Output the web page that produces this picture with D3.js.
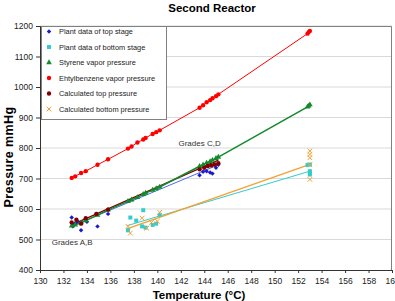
<!DOCTYPE html>
<html>
<head>
<meta charset="utf-8">
<script src="https://d3js.org/d3.v7.min.js"></script>
<style>
  body { margin: 0; background: #fff; }
  text { font-family: "Liberation Sans", Arial, sans-serif; }
</style>
</head>
<body>
<div id="chart"></div>
<script>

// ---- data ----
var xTicks = [130,132,134,136,138,140,142,144,146,148,150,152,154,156,158,160];
var yTicks = [400,500,600,700,800,900,1000,1100,1200];

// plant data, top stage
var topT = [132.7,132.8,133.0,133.2,133.5,134.0,134.9,135.8,143.6,143.9,144.2,144.5,144.7,145.0,145.2];
var topP = [572,543,553,560,530,558,543,584,711,722,724,720,716,735,745];

// plant data, bottom stage
var botT = [137.5,137.7,138.2,138.7,138.8,139.0,139.6,139.9,140.2,152.8,153.0,153.0,153.0,153.0];
var botP = [530,572,562,543,596,539,548,552,581,744,746,724,719,713];

// vapor pressures at the stage temperatures
var vpT = [132.7,133.0,133.5,133.9,134.9,135.8,137.5,137.8,138.3,138.8,139.0,139.6,139.9,140.2,
           143.6,143.9,144.2,144.5,144.7,145.0,145.2,152.8,152.9,153.0];
var styreneP = [545,548,555,562,580,597,625,630,638,648,652,662,667,672,
                740,745,751,756,760,766,770,935,938,942];
var ebP = [702,707,718,724,745,763,798,805,818,828,833,846,852,858,
           932,940,950,957,963,970,976,1175,1180,1184];

// calculated pressures
var calcTopT = [132.7,133.1,133.5,133.9,134.8,135.8,143.6,144.0,144.3,144.6,144.9,145.2];
var calcTopP = [556,565,552,570,584,598,730,735,741,743,746,750];
var calcBotT = [137.5,137.7,138.7,139.1,139.5,140.0,140.2,153.0,153.0,153.0,153.0,153.0];
var calcBotP = [543,521,570,537,556,560,589,697,745,768,779,790];

// trend lines
var topLineT = [132.8,145.2],     topLineP = [545,745];
var botLineT = [137.4,153.0],     botLineP = [545,724];
var calcTopLineT = [132.7,145.2], calcTopLineP = [548,760];
var calcBotLineT = [137.4,153.0], calcBotLineP = [535,746];

var legendNames = ["Plant data of top stage","Plant data of bottom stage","Styrene vapor pressure",
                   "Ehtylbenzene vapor pressure","Calculated top pressure","Calculated bottom pressure"];

// ---- layout ----
var W = 395, H = 301;
var margin = {top: 26, right: 3, bottom: 31, left: 40};
var width = W - margin.left - margin.right,
    height = H - margin.top - margin.bottom;

var svg = d3.select("#chart").append("svg")
    .attr("width", W).attr("height", H);

var g = svg.append("g")
    .attr("transform", "translate(" + margin.left + "," + margin.top + ")");

var x = d3.scaleLinear().domain([130,160]).range([0, width]);
var y = d3.scaleLinear().domain([400,1200]).range([height, 0]);

// gridlines
g.selectAll(".grid").data(yTicks.slice(1)).enter().append("line")
    .attr("x1", 0).attr("x2", width)
    .attr("y1", function(d){ return y(d); }).attr("y2", function(d){ return y(d); })
    .attr("stroke", "#d9d9d9").attr("stroke-width", 1);

// plot frame (top/right)
g.append("path")
    .attr("d", "M0,0.5H" + (width - 0.5) + "V" + height)
    .attr("fill", "none").attr("stroke", "#808080");

// axes
var xAxis = g.append("g")
    .attr("transform", "translate(0," + height + ")")
    .call(d3.axisBottom(x).tickValues(xTicks).tickFormat(d3.format("d")).tickSize(3).tickPadding(5));
var yAxis = g.append("g")
    .call(d3.axisLeft(y).tickValues(yTicks).tickFormat(d3.format("d")).tickSize(4).tickPadding(3));
[xAxis, yAxis].forEach(function(a){
  a.select(".domain").attr("stroke", "#333");
  a.selectAll(".tick line").attr("stroke", "#333");
  a.selectAll("text").attr("font-size", "8.5px").attr("fill", "#222")
    .attr("font-family", "'Liberation Sans', Arial, sans-serif");
});

// helpers
function pairs(xs, ys){ return xs.map(function(v,i){ return [v, ys[i]]; }); }
var line = d3.line().x(function(d){ return x(d[0]); }).y(function(d){ return y(d[1]); });

function drawLine(pts, color, w){
  g.append("path").datum(pts)
    .attr("fill", "none").attr("stroke", color).attr("stroke-width", w)
    .attr("d", line);
}

var sym = {
  diamond: d3.symbol().type(d3.symbolSquare).size(10),
  square: d3.symbol().type(d3.symbolSquare).size(16),
  triangle: d3.symbol().type(d3.symbolTriangle).size(14),
  circle: d3.symbol().type(d3.symbolCircle).size(15),
  cross: d3.symbol().type(d3.symbolX).size(16)
};

function drawPoints(pts, shape, color){
  g.append("g").selectAll("path").data(pts).enter().append("path")
    .attr("transform", function(d){
      return "translate(" + x(d[0]) + "," + y(d[1]) + ")" + (shape === "diamond" ? " rotate(45)" : "");
    })
    .attr("d", sym[shape])
    .attr("fill", shape === "cross" ? "none" : color)
    .attr("stroke", shape === "cross" ? color : "none")
    .attr("stroke-width", 1);
}

var colors = {
  top: "#1a1acc", bot: "#33cccc", sty: "#138a2b",
  eb: "#ff0000", calcTop: "#800000", calcBot: "#f5a033"
};

// lines
drawLine(pairs(vpT, ebP), colors.eb, 1);
drawLine(pairs(botLineT, botLineP), colors.bot, 1);
drawLine(pairs(calcBotLineT, calcBotLineP), colors.calcBot, 1.3);
drawLine(pairs(topLineT, topLineP), "#4a6cf0", 1);
drawLine(pairs(calcTopLineT, calcTopLineP), colors.calcTop, 1.3);
drawLine(pairs(vpT, styreneP), colors.sty, 1.5);

// points
drawPoints(pairs(topT, topP), "diamond", colors.top);
drawPoints(pairs(botT, botP), "square", colors.bot);
drawPoints(pairs(vpT, styreneP), "triangle", colors.sty);
drawPoints(pairs(vpT, ebP), "circle", colors.eb);
drawPoints(pairs(calcTopT, calcTopP), "circle", colors.calcTop);
drawPoints(pairs(calcBotT, calcBotP), "cross", colors.calcBot);

// annotations
g.append("text").attr("x", x(131.0)).attr("y", y(482)).attr("font-size", "8px").attr("fill", "#333")
  .text("Grades A,B");
g.append("text").attr("x", x(141.8)).attr("y", y(808)).attr("font-size", "8px").attr("fill", "#333")
  .text("Grades C,D");

// legend
var legend = svg.append("g").attr("transform", "translate(40,26)");
legend.append("rect").attr("x", 1.5).attr("y", 0.5).attr("width", 125).attr("height", 93)
  .attr("fill", "#fff").attr("stroke", "#808080");
var shapes = ["diamond","square","triangle","circle","circle","cross"];
var lcols = [colors.top, colors.bot, colors.sty, colors.eb, colors.calcTop, colors.calcBot];
var item = legend.selectAll(".item").data(legendNames).enter().append("g")
  .attr("transform", function(d,i){ return "translate(9," + (5.5 + i*15.5) + ")"; });
item.append("path")
  .attr("transform", function(d,i){ return shapes[i] === "diamond" ? "rotate(45)" : null; })
  .attr("d", function(d,i){ return sym[shapes[i]](); })
  .attr("fill", function(d,i){ return shapes[i] === "cross" ? "none" : lcols[i]; })
  .attr("stroke", function(d,i){ return shapes[i] === "cross" ? lcols[i] : "none"; });
item.append("text").attr("x", 10).attr("y", 2.5)
  .attr("font-size", "7.4px").attr("fill", "#222")
  .text(function(d){ return d; });

// titles
svg.append("text").attr("x", 212).attr("y", 12).attr("text-anchor", "middle")
  .attr("font-weight", "bold").attr("font-size", "11.5px").text("Second Reactor");
svg.append("text").attr("x", 199).attr("y", 299).attr("text-anchor", "middle")
  .attr("font-weight", "bold").attr("font-size", "11.5px").text("Temperature (°C)");
svg.append("text").attr("transform", "translate(13,157) rotate(-90)").attr("text-anchor", "middle")
  .attr("font-weight", "bold").attr("font-size", "12.5px").attr("letter-spacing", "0.4px")
  .text("Pressure mmHg");

</script>
</body>
</html>
